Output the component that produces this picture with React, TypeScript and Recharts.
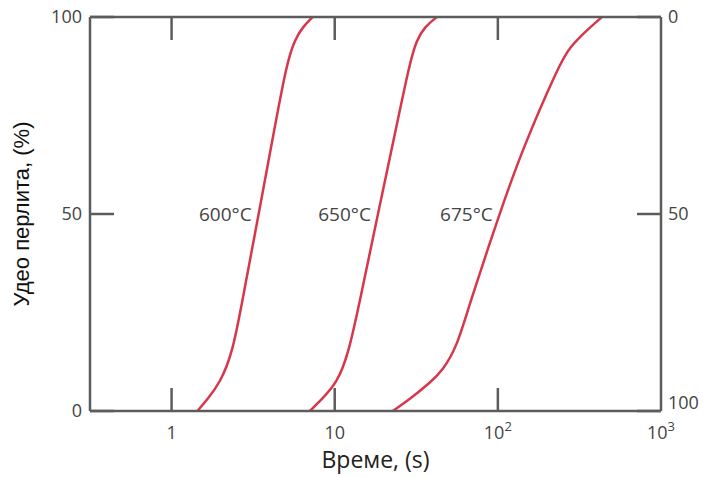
import React from 'react';
import { LineChart, Line, XAxis, YAxis, ReferenceDot } from 'recharts';

// време (s) и удео перлита (%) за сваку температуру
const time600 = [1.44, 1.66, 1.97, 2.37, 2.77, 3.42, 4.2, 5.08, 5.69, 6.37, 7.33];
const pearlite600 = [0, 3, 7, 14.7, 30, 50, 70, 88.3, 94.2, 97.5, 100];

const time650 = [7.03, 8.32, 10.3, 12.2, 14.6, 18.4, 23.3, 28.8, 31.8, 35.6, 42.3];
const pearlite650 = [0, 3, 7, 14.7, 30, 50, 70, 88.3, 94.2, 97.5, 100];

const time675 = [22.7, 28.8, 38.3, 46.0, 56.0, 67.3, 102.8, 140, 240, 277, 352, 435];
const pearlite675 = [0, 3, 7.1, 10.4, 16.2, 27.4, 50.3, 66, 88.3, 92.4, 96.7, 100];

const curveLabels = ['600°C', '650°C', '675°C'];
const xTicks = [1, 10, 100, 1000];
const yTicks = [0, 50, 100];

const RED = '#d6374a';
const AXIS = '#5c5c5c';
const TICK_FONT = '"Open Sans", sans-serif';

const toPoints = (t: number[], p: number[]) => t.map((v, i) => ({ t: v, p: p[i] }));

const series = [
  toPoints(time600, pearlite600),
  toPoints(time650, pearlite650),
  toPoints(time675, pearlite675),
];

const tickText = (v: number) => {
  if (v === 1) return '1';
  if (v === 10) return '10';
  return null;
};

const BottomTick = (props: any) => {
  const { x, y, payload } = props;
  const v = payload.value;
  const txt = tickText(v);
  return (
    <g>
      {v < 1000 && <line x1={x} x2={x} y1={y} y2={y - 23} stroke={AXIS} strokeWidth={2.5} />}
      <text x={x} y={y + 28} textAnchor="middle" fill="#444" fontSize={18} fontFamily={TICK_FONT}>
        {txt !== null ? txt : (
          <>
            10
            <tspan dy={-8} fontSize={13}>{v === 100 ? '2' : '3'}</tspan>
          </>
        )}
      </text>
    </g>
  );
};

const TopTick = (props: any) => {
  const { x, y, payload } = props;
  if (payload.value >= 1000) return <g />;
  return <line x1={x} x2={x} y1={y} y2={y + 23} stroke={AXIS} strokeWidth={2.5} />;
};

const LeftTick = (props: any) => {
  const { x, y, payload } = props;
  return (
    <g>
      <line x1={x} x2={x + 24} y1={y} y2={y} stroke={AXIS} strokeWidth={2.5} />
      <text x={x - 8} y={y} dy={6} textAnchor="end" fill="#444" fontSize={18} fontFamily={TICK_FONT}>
        {payload.value}
      </text>
    </g>
  );
};

const RightTick = (props: any) => {
  const { x, y, payload } = props;
  const shift = payload.value === 100 ? -8 : 0;
  return (
    <g>
      <line x1={x} x2={x - 24} y1={y} y2={y} stroke={AXIS} strokeWidth={2.5} />
      <text x={x + 7} y={y + shift} dy={6} textAnchor="start" fill="#444" fontSize={18} fontFamily={TICK_FONT}>
        {payload.value}
      </text>
    </g>
  );
};

const App = () => {
  return (
    <div style={{ position: 'absolute', left: 0, top: 0, width: 708, height: 477, background: '#fff' }}>
      <LineChart width={708} height={477} margin={{ top: 15, right: 0, bottom: 0, left: 0 }}>
        <XAxis
          dataKey="t"
          type="number"
          scale="log"
          domain={[0.3162, 1000]}
          allowDataOverflow
          ticks={xTicks}
          height={66}
          tickSize={0}
          tickMargin={0}
          tick={<BottomTick />}
          axisLine={{ stroke: AXIS, strokeWidth: 2.5 }}
          tickLine={false}
          label={(p: any) => {
            const vb = p.viewBox;
            return (
              <text x={vb.x + vb.width / 2} y={vb.y + 57} textAnchor="middle" fill="#222" fontSize={23}
                fontFamily={TICK_FONT}>
                Време, (s)
              </text>
            );
          }}
        />
        <XAxis
          xAxisId="top"
          dataKey="t"
          orientation="top"
          type="number"
          scale="log"
          domain={[0.3162, 1000]}
          allowDataOverflow
          ticks={xTicks}
          height={2}
          tickSize={0}
          tickMargin={0}
          tick={<TopTick />}
          axisLine={{ stroke: AXIS, strokeWidth: 2.5 }}
          tickLine={false}
        />
        <YAxis
          type="number"
          domain={[0, 100]}
          ticks={yTicks}
          width={90}
          tickSize={0}
          tickMargin={0}
          tick={<LeftTick />}
          axisLine={{ stroke: AXIS, strokeWidth: 2.5 }}
          tickLine={false}
          label={(p: any) => {
            const vb = p.viewBox;
            const cx = vb.x + 22;
            const cy = vb.y + vb.height / 2;
            return (
              <text x={cx} y={cy} transform={`rotate(-90 ${cx} ${cy})`} textAnchor="middle" dy={7}
                fill="#111" fontSize={22} fontFamily='"Liberation Sans", Arial, sans-serif'>
                Удео перлита, (%)
              </text>
            );
          }}
        />
        <YAxis
          yAxisId="right"
          orientation="right"
          type="number"
          domain={[0, 100]}
          reversed
          ticks={yTicks}
          width={47}
          tickSize={0}
          tickMargin={0}
          tick={<RightTick />}
          axisLine={{ stroke: AXIS, strokeWidth: 2.5 }}
          tickLine={false}
        />
        {/* невидљива серија која везује горњу и десну осу */}
        <Line
          data={series[0]}
          xAxisId="top"
          yAxisId="right"
          dataKey="p"
          stroke="none"
          dot={false}
          activeDot={false}
          legendType="none"
          isAnimationActive={false}
        />
        {series.map((d, i) => (
          <Line
            key={curveLabels[i]}
            data={d}
            dataKey="p"
            type="basis"
            stroke={RED}
            strokeWidth={2.5}
            dot={false}
            isAnimationActive={false}
          />
        ))}
        {series.map((d, i) => {
          const mid = d.find((pt) => pt.p >= 50) || d[0];
          return (
            <ReferenceDot
              key={'lbl' + i}
              x={mid.t}
              y={50}
              r={0}
              fill="none"
              stroke="none"
              label={{
                value: curveLabels[i],
                position: 'left',
                offset: 7,
                fill: '#444',
                fontSize: 19,
                fontFamily: TICK_FONT,
              }}
            />
          );
        })}
      </LineChart>
    </div>
  );
};

export default App;
